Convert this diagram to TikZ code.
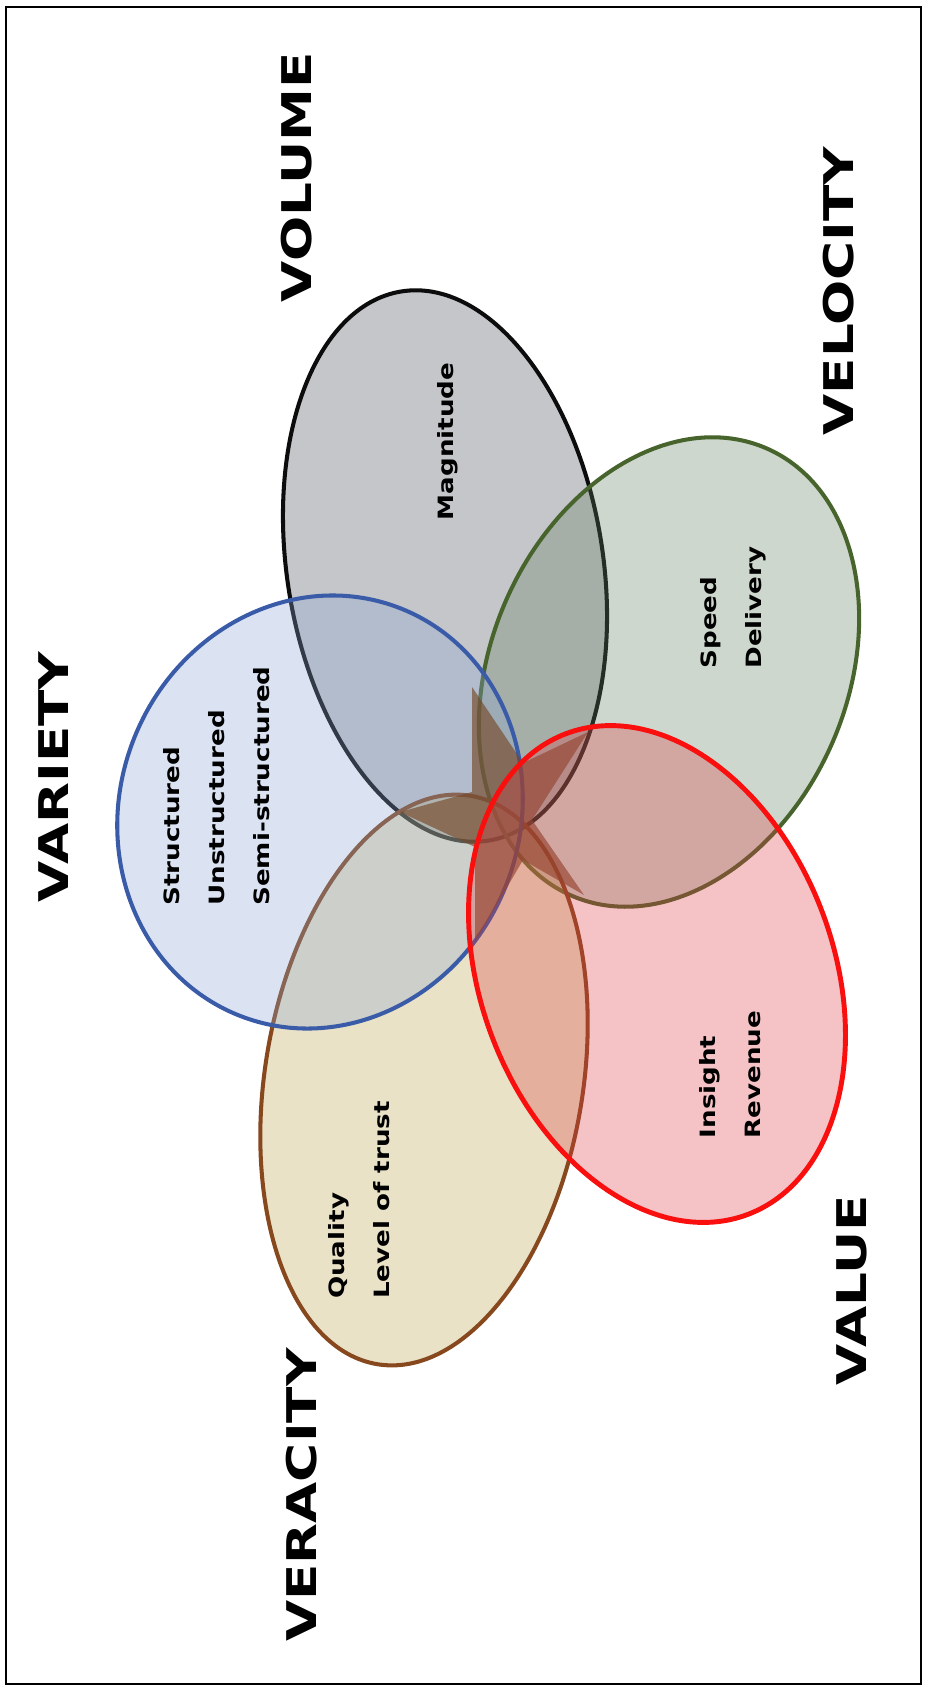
\documentclass[tikz,border=0pt]{standalone}
\usepackage{fontspec}
\setmainfont{DejaVu Sans}
\usepackage{graphicx}

% widened lettering for the headings and the set contents
\newcommand{\stretchtxt}[1]{\scalebox{1.3}[1]{#1}}
\newcommand{\stretchnote}[1]{\scalebox{1.24}[1]{#1}}

\definecolor{volFill}{RGB}{62,68,82}
\definecolor{volLine}{RGB}{12,12,12}
\definecolor{velFill}{RGB}{95,125,92}
\definecolor{velLine}{RGB}{72,100,45}
\definecolor{varFill}{RGB}{138,165,212}
\definecolor{varLine}{RGB}{58,92,168}
\definecolor{valFill}{RGB}{222,58,65}
\definecolor{valLine}{RGB}{250,15,15}
\definecolor{verFill}{RGB}{185,162,72}
\definecolor{verLine}{RGB}{135,72,30}
\definecolor{starFill}{RGB}{118,72,40}

\tikzset{
  frame/.style={draw=black, line width=1.1pt},
  venn/.style={line width=2.3pt, fill opacity=0.3, draw opacity=1},
  heading/.style={rotate=90, inner sep=0pt, text=black,
    font=\fontsize{23.3}{28}\selectfont\bfseries},
  note/.style={rotate=90, inner sep=0pt, align=left, text=black,
    font=\fontsize{12}{25.6}\selectfont\bfseries},
}

\begin{document}
\begin{tikzpicture}[x=0.02cm, y=-0.02cm]
  \useasboundingbox (0,0) rectangle (925,1690);
  \fill[white] (0,0) rectangle (925,1690);
  \draw[frame] (6,7) rectangle (921,1684);

  % Volume
  \draw[venn, draw=volLine, fill=volFill, rotate around={9:(445,566)}]
    (445,566) ellipse [x radius=158, y radius=278];
  % Velocity
  \draw[venn, draw=velLine, fill=velFill, rotate around={-23.6:(669,672)}]
    (669,672) ellipse [x radius=178, y radius=244];
  % Veracity
  \draw[venn, draw=verLine, fill=verFill, rotate around={-9.3:(424,1080)}]
    (424,1080) ellipse [x radius=159, y radius=288];
  % Variety
  \draw[venn, draw=varLine, fill=varFill, rotate around={-21.8:(320,812)}]
    (320,812) ellipse [x radius=200, y radius=219];
  % centre star
  \fill[starFill, fill opacity=0.65]
    (472,687) -- (523,763) -- (588,732) -- (532,820) -- (584,895)
    -- (523,860) -- (475,942) -- (475,847) -- (400,812) -- (472,792) -- cycle;
  % Value
  \draw[venn, line width=2.8pt, draw=valLine, fill=valFill, rotate around={20.7:(657,974)}]
    (657,974) ellipse [x radius=176.5, y radius=257];

  % headings
  \node[heading] (volume)   at (297,177)  {\stretchtxt{VOLUME}};
  \node[heading] (velocity) at (839,291)  {\stretchtxt{VELOCITY}};
  \node[heading] (variety)  at (54,777)   {\stretchtxt{VARIETY}};
  \node[heading] (veracity) at (302,1495) {\stretchtxt{VERACITY}};
  \node[heading] (value)    at (852,1290) {\stretchtxt{VALUE}};

  % contents of each set
  \node[note] (magnitude) at (448,441.5) {\stretchnote{Magnitude}};
  \node[note] (speed) at (733.5,607.5) {\stretchnote{Speed}\\\stretchnote{Delivery}};
  \node[note] (structure) at (216.5,786)
    {\stretchnote{Structured}\\\stretchnote{Unstructured}\\\stretchnote{Semi-structured}};
  \node[note] (insight) at (730,1074.5) {\stretchnote{Insight}\\\stretchnote{Revenue}};
  \node[note] (quality) at (359,1200) {\stretchnote{Quality}\\\stretchnote{Level of trust}};
\end{tikzpicture}
\end{document}
